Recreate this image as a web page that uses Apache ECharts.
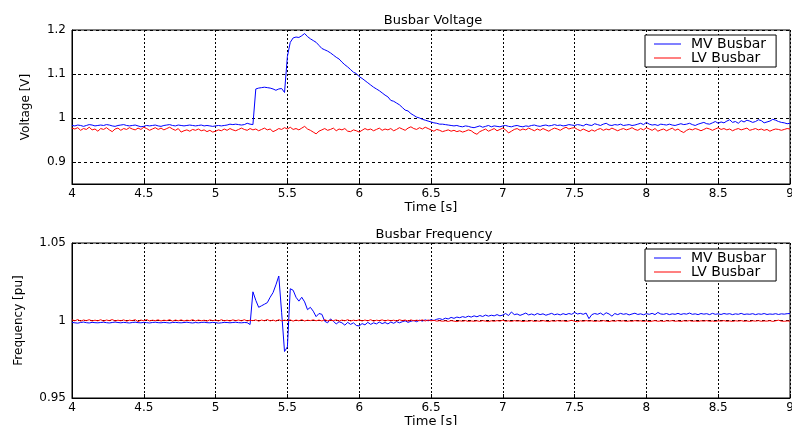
<!DOCTYPE html>
<html>
<head>
<meta charset="utf-8">
<script src="https://cdn.jsdelivr.net/npm/echarts@6/dist/echarts.min.js"></script>
<style>html,body{margin:0;padding:0;background:#fff}#c{width:792px;height:425px}</style>
</head>
<body>
<div id="c"></div>
<script>
// sample grid: 4.00 s to 9.00 s, 0.02 s step
const tStart = 4.0, tStep = 0.02;

const xTicks = [4, 4.5, 5, 5.5, 6, 6.5, 7, 7.5, 8, 8.5, 9];
const voltTicks = [0.9, 1, 1.1, 1.2];
const freqTicks = [0.95, 1, 1.05];

const mvVoltage = [
0.983,0.982,0.984,0.983,0.981,0.983,0.985,0.984,0.982,0.983,
0.984,0.983,0.985,0.984,0.982,0.981,0.983,0.984,0.985,0.983,
0.982,0.983,0.984,0.982,0.980,0.981,0.983,0.982,0.983,0.984,
0.982,0.981,0.983,0.984,0.985,0.983,0.982,0.984,0.983,0.982,
0.983,0.984,0.983,0.982,0.983,0.984,0.982,0.983,0.982,0.981,
0.982,0.983,0.982,0.983,0.984,0.986,0.985,0.986,0.985,0.984,
0.985,0.988,0.986,0.985,1.066,1.068,1.069,1.070,1.069,1.068,
1.066,1.063,1.066,1.067,1.058,1.140,1.172,1.182,1.184,1.183,
1.187,1.192,1.185,1.180,1.176,1.172,1.165,1.158,1.155,1.152,
1.148,1.143,1.138,1.134,1.127,1.121,1.116,1.110,1.104,1.101,
1.094,1.090,1.085,1.080,1.075,1.070,1.066,1.062,1.057,1.052,
1.048,1.040,1.038,1.034,1.030,1.024,1.018,1.016,1.010,1.006,
1.002,1.000,0.997,0.995,0.993,0.991,0.989,0.988,0.986,0.986,
0.985,0.984,0.983,0.982,0.983,0.981,0.980,0.982,0.981,0.979,
0.978,0.980,0.982,0.979,0.981,0.983,0.980,0.982,0.981,0.980,
0.982,0.983,0.981,0.980,0.982,0.983,0.981,0.980,0.982,0.981,
0.983,0.984,0.982,0.981,0.983,0.984,0.982,0.983,0.985,0.983,
0.984,0.982,0.983,0.985,0.984,0.983,0.985,0.984,0.982,0.986,
0.984,0.983,0.987,0.985,0.983,0.986,0.988,0.984,0.983,0.985,
0.984,0.986,0.983,0.984,0.985,0.983,0.984,0.986,0.988,0.985,
0.990,0.986,0.984,0.985,0.983,0.986,0.985,0.984,0.986,0.984,
0.983,0.985,0.987,0.985,0.986,0.988,0.985,0.983,0.986,0.988,
0.990,0.987,0.986,0.989,0.992,0.988,0.991,0.989,0.993,0.996,
0.990,0.992,0.988,0.994,0.991,0.995,0.993,0.990,0.992,0.996,
0.994,0.989,0.991,0.993,0.997,0.995,0.992,0.990,0.989,0.987,
0.988];

const lvVoltage = [
0.977,0.975,0.978,0.972,0.976,0.974,0.979,0.973,0.975,0.970,
0.976,0.974,0.978,0.973,0.969,0.975,0.977,0.972,0.976,0.974,
0.978,0.975,0.973,0.977,0.974,0.979,0.976,0.972,0.975,0.978,
0.974,0.977,0.973,0.976,0.979,0.975,0.972,0.976,0.968,0.971,
0.973,0.970,0.974,0.972,0.975,0.971,0.973,0.969,0.972,0.968,
0.970,0.973,0.971,0.975,0.972,0.976,0.973,0.971,0.974,0.977,
0.974,0.972,0.976,0.973,0.975,0.971,0.974,0.977,0.973,0.975,
0.969,0.972,0.976,0.974,0.978,0.975,0.979,0.974,0.976,0.973,
0.977,0.981,0.975,0.972,0.968,0.964,0.970,0.973,0.976,0.972,
0.974,0.977,0.971,0.975,0.973,0.976,0.970,0.969,0.973,0.971,
0.968,0.972,0.976,0.973,0.975,0.971,0.974,0.977,0.972,0.975,
0.973,0.976,0.971,0.974,0.978,0.975,0.972,0.977,0.980,0.976,
0.974,0.978,0.975,0.979,0.976,0.973,0.970,0.974,0.972,0.969,
0.971,0.973,0.970,0.972,0.969,0.971,0.968,0.970,0.973,0.971,
0.966,0.963,0.969,0.972,0.975,0.970,0.973,0.976,0.971,0.974,
0.977,0.973,0.966,0.970,0.974,0.976,0.972,0.975,0.973,0.977,
0.974,0.971,0.975,0.972,0.976,0.973,0.970,0.974,0.977,0.975,
0.972,0.976,0.979,0.975,0.977,0.978,0.974,0.971,0.975,0.972,
0.969,0.973,0.970,0.974,0.976,0.972,0.975,0.973,0.977,0.974,
0.971,0.974,0.976,0.973,0.975,0.978,0.974,0.972,0.976,0.973,
0.978,0.975,0.972,0.976,0.970,0.973,0.975,0.971,0.974,0.977,
0.972,0.975,0.970,0.967,0.972,0.975,0.973,0.976,0.974,0.971,
0.974,0.977,0.975,0.972,0.975,0.978,0.974,0.976,0.973,0.975,
0.971,0.974,0.976,0.973,0.975,0.977,0.972,0.974,0.976,0.973,
0.975,0.972,0.974,0.970,0.973,0.975,0.974,0.972,0.974,0.976,
0.975];

const mvFrequency = [
0.9988,0.9985,0.9983,0.9987,0.9990,0.9986,0.9984,0.9988,0.9986,0.9985,
0.9987,0.9989,0.9986,0.9984,0.9987,0.9990,0.9987,0.9985,0.9988,0.9986,
0.9984,0.9987,0.9989,0.9986,0.9985,0.9988,0.9986,0.9984,0.9987,0.9989,
0.9986,0.9985,0.9988,0.9986,0.9984,0.9987,0.9988,0.9986,0.9985,0.9987,
0.9989,0.9986,0.9984,0.9987,0.9985,0.9987,0.9989,0.9986,0.9985,0.9988,
0.9986,0.9983,0.9985,0.9988,0.9987,0.9985,0.9987,0.9989,0.9986,0.9985,
0.9987,0.9986,0.9974,1.0185,1.0130,1.0085,1.0095,1.0105,1.0115,1.0150,
1.0180,1.0230,1.0287,1.0050,0.9800,0.9830,1.0205,1.0195,1.0150,1.0125,
1.0150,1.0120,1.0070,1.0085,1.0060,1.0025,1.0045,1.0040,0.9995,0.9985,
1.0010,0.9995,0.9978,0.9992,0.9985,0.9970,0.9988,0.9975,0.9985,0.9968,
0.9965,0.9980,0.9972,0.9988,0.9975,0.9985,0.9978,0.9990,0.9980,0.9987,
0.9978,0.9990,0.9982,0.9993,0.9985,0.9992,0.9998,0.9988,0.9995,1.0000,
0.9992,1.0002,0.9996,1.0004,0.9998,1.0005,1.0000,1.0008,1.0012,1.0006,
1.0015,1.0010,1.0020,1.0014,1.0022,1.0018,1.0025,1.0020,1.0028,1.0022,
1.0030,1.0024,1.0032,1.0026,1.0035,1.0028,1.0034,1.0030,1.0038,1.0030,
1.0035,1.0045,1.0032,1.0055,1.0038,1.0042,1.0033,1.0040,1.0048,1.0036,
1.0042,1.0035,1.0045,1.0038,1.0043,1.0034,1.0040,1.0046,1.0037,1.0042,
1.0036,1.0044,1.0038,1.0045,1.0040,1.0052,1.0042,1.0046,1.0040,1.0048,
1.0012,1.0038,1.0045,1.0040,1.0048,1.0036,1.0050,1.0042,1.0028,1.0045,
1.0038,1.0046,1.0040,1.0044,1.0036,1.0042,1.0047,1.0039,1.0043,1.0037,
1.0044,1.0040,1.0046,1.0038,1.0052,1.0042,1.0040,1.0045,1.0038,1.0043,
1.0040,1.0046,1.0039,1.0044,1.0041,1.0048,1.0040,1.0043,1.0038,1.0045,
1.0041,1.0044,1.0038,1.0046,1.0040,1.0043,1.0039,1.0045,1.0041,1.0044,
1.0038,1.0043,1.0040,1.0046,1.0039,1.0042,1.0040,1.0044,1.0038,1.0043,
1.0040,1.0045,1.0039,1.0042,1.0040,1.0044,1.0039,1.0043,1.0041,1.0044,
1.0045];

const lvFrequency = [
1.0004,0.9998,1.0006,0.9996,1.0003,0.9999,1.0005,0.9997,1.0002,0.9998,
1.0005,0.9996,1.0003,0.9999,1.0006,0.9997,1.0002,0.9998,1.0004,0.9996,
1.0002,0.9999,1.0005,0.9993,1.0003,0.9998,1.0006,0.9997,1.0002,0.9999,
1.0004,0.9997,1.0002,0.9999,1.0005,0.9996,1.0003,0.9998,1.0004,0.9997,
1.0002,0.9999,1.0005,0.9997,1.0003,0.9998,1.0002,0.9996,1.0004,0.9999,
1.0003,0.9997,1.0005,0.9998,1.0002,0.9997,1.0004,0.9999,1.0003,0.9998,
1.0005,0.9997,1.0002,0.9999,1.0004,0.9996,1.0003,0.9998,1.0006,0.9997,
1.0003,0.9996,1.0005,0.9998,1.0002,0.9999,1.0004,0.9996,1.0003,0.9998,
1.0005,0.9997,1.0002,0.9999,1.0004,0.9998,1.0003,0.9997,1.0005,0.9998,
1.0002,0.9999,1.0004,0.9996,1.0003,0.9998,1.0005,0.9997,1.0002,0.9999,
1.0004,0.9997,1.0003,0.9998,1.0005,0.9996,1.0002,0.9999,1.0004,0.9997,
1.0003,0.9998,1.0002,0.9997,1.0005,0.9999,1.0003,0.9996,1.0004,0.9998,
1.0002,0.9999,1.0004,0.9997,1.0003,0.9998,1.0001,0.9996,0.9999,0.9995,
0.9998,0.9994,0.9999,0.9996,0.9993,0.9998,0.9995,0.9999,0.9994,0.9997,
0.9995,0.9998,0.9994,0.9999,0.9996,0.9993,0.9998,0.9995,0.9999,0.9996,
1.0002,0.9995,0.9998,0.9994,0.9999,0.9996,0.9998,0.9993,0.9997,0.9995,
0.9999,0.9994,0.9997,0.9995,0.9999,0.9996,0.9993,0.9998,0.9995,0.9999,
0.9996,0.9998,0.9994,0.9997,1.0001,0.9995,0.9992,0.9998,0.9995,0.9999,
0.9996,0.9998,0.9994,0.9997,0.9995,0.9999,0.9996,0.9993,0.9998,0.9995,
0.9999,0.9996,0.9998,0.9994,0.9997,0.9995,0.9999,0.9996,0.9998,0.9994,
0.9998,0.9993,0.9996,0.9999,0.9995,0.9997,0.9994,0.9998,0.9996,0.9999,
0.9995,0.9997,0.9994,0.9998,0.9996,0.9999,0.9995,0.9997,0.9994,0.9998,
0.9996,0.9999,0.9995,0.9997,0.9994,0.9998,0.9996,0.9999,0.9995,0.9997,
0.9994,0.9998,0.9996,0.9999,0.9995,0.9997,0.9994,0.9998,0.9996,0.9999,
0.9995,0.9997,0.9996,0.9999,0.9994,0.9998,1.0002,0.9996,0.9995,0.9997,
0.9996];

function pairs(vals) {
  return vals.map(function (v, i) { return [+(tStart + i * tStep).toFixed(2), v]; });
}

const FONT = 'DejaVu Sans';
const chart = echarts.init(document.getElementById('c'), null, { renderer: 'canvas' });

function xAxisFor(gridIndex) {
  return {
    type: 'value', gridIndex: gridIndex, min: 4, max: 9, interval: 0.5,
    name: 'Time [s]', nameLocation: 'middle', nameGap: 17,
    nameTextStyle: { fontFamily: FONT, fontSize: 13, color: '#000' },
    axisLine: { show: true, onZero: false, lineStyle: { color: '#000', width: 1 } },
    axisTick: { show: true, inside: true, length: 4, lineStyle: { color: '#000' } },
    axisLabel: { fontFamily: FONT, fontSize: 12, color: '#000', margin: 4,
      customValues: xTicks, showMinLabel: true, showMaxLabel: true },
    splitLine: { show: true, lineStyle: { color: '#000', type: [2, 2], width: 1 } }
  };
}

function yAxisFor(gridIndex, min, max, ticks, name, gap) {
  return {
    type: 'value', gridIndex: gridIndex, min: min, max: max,
    name: name, nameLocation: 'middle', nameGap: gap, nameRotate: 90,
    nameTextStyle: { fontFamily: FONT, fontSize: 12, color: '#000' },
    axisLine: { show: true, onZero: false, lineStyle: { color: '#000', width: 1 } },
    axisTick: { show: true, inside: true, length: 4, lineStyle: { color: '#000' }, customValues: ticks },
    axisLabel: { fontFamily: FONT, fontSize: 12, color: '#000', margin: 6, customValues: ticks },
    splitLine: { show: true, lineStyle: { color: '#000', type: [3, 3], width: 1 } }
  };
}

function legendFor(top) {
  return {
    left: 645, top: top, orient: 'vertical',
    data: [{ name: 'MV Busbar', icon: 'rect' }, { name: 'LV Busbar', icon: 'rect' }],
    itemWidth: 27, itemHeight: 1, itemGap: 0,
    padding: [2, 10, 2, 9],
    borderColor: '#000', borderWidth: 1, backgroundColor: '#fff', borderRadius: 0,
    textStyle: { fontFamily: FONT, fontSize: 14, color: '#000', padding: [0, 0, 0, 5], lineHeight: 13 },
    selectedMode: false
  };
}

const lineBase = { type: 'line', showSymbol: false, symbol: 'none', animation: false, lineStyle: { width: 1 } };

chart.setOption({
  animation: false,
  backgroundColor: '#fff',
  title: [
    { text: 'Busbar Voltage', left: 428, top: 9, textAlign: 'center',
      textStyle: { fontFamily: FONT, fontSize: 13, fontWeight: 'normal', color: '#000' } },
    { text: 'Busbar Frequency', left: 429, top: 223, textAlign: 'center',
      textStyle: { fontFamily: FONT, fontSize: 13, fontWeight: 'normal', color: '#000' } }
  ],
  legend: [legendFor(35), legendFor(249)],
  grid: [
    { left: 72, right: 2, top: 30, height: 154, show: true, borderColor: '#000', borderWidth: 1,
      backgroundColor: '#fff', containLabel: false, outerBoundsMode: 'none' },
    { left: 72, right: 2, top: 243, height: 155, show: true, borderColor: '#000', borderWidth: 1,
      backgroundColor: '#fff', containLabel: false, outerBoundsMode: 'none' }
  ],
  xAxis: [xAxisFor(0), xAxisFor(1)],
  yAxis: [
    yAxisFor(0, 0.85, 1.2, voltTicks, 'Voltage [V]', 40),
    yAxisFor(1, 0.95, 1.05, freqTicks, 'Frequency [pu]', 47)
  ],
  series: [
    Object.assign({}, lineBase, { name: 'MV Busbar', xAxisIndex: 0, yAxisIndex: 0, color: '#0000ff', data: pairs(mvVoltage), z: 3 }),
    Object.assign({}, lineBase, { name: 'LV Busbar', xAxisIndex: 0, yAxisIndex: 0, color: '#ff0000', data: pairs(lvVoltage), z: 2 }),
    Object.assign({}, lineBase, { name: 'MV Busbar', xAxisIndex: 1, yAxisIndex: 1, color: '#0000ff', data: pairs(mvFrequency), z: 2 }),
    Object.assign({}, lineBase, { name: 'LV Busbar', xAxisIndex: 1, yAxisIndex: 1, color: '#ff0000', data: pairs(lvFrequency), z: 3 })
  ]
});
</script>
</body>
</html>
